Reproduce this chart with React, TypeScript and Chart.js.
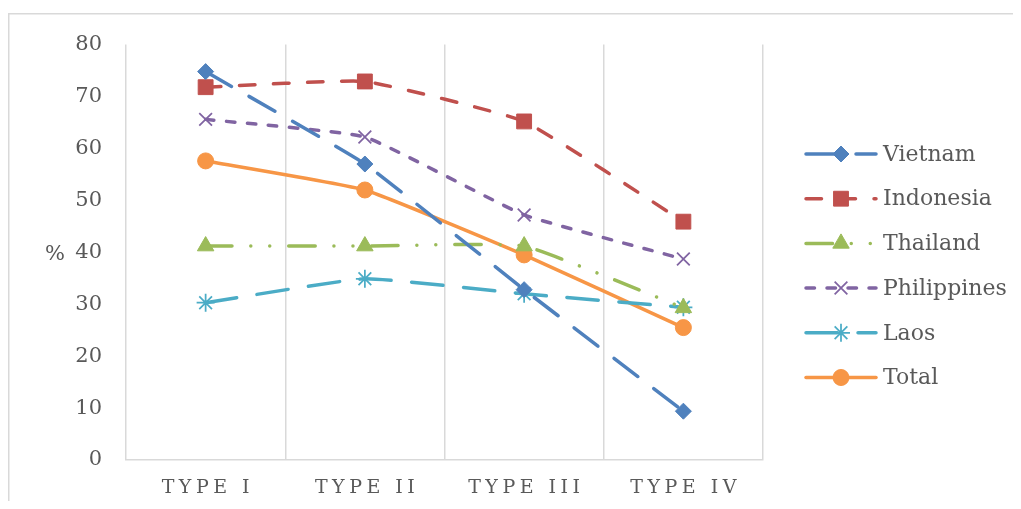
import { useEffect, useRef } from "react";
import { Chart, registerables } from "chart.js";
import { drawPoint } from "chart.js/helpers";

Chart.register(...registerables);

const categories = ["TYPE I", "TYPE II", "TYPE III", "TYPE IV"];
const vietnam = [74.8, 57.0, 32.8, 9.4];
const indonesia = [71.8, 72.9, 65.2, 45.9];
const thailand = [41.2, 41.2, 41.2, 29.3];
const philippines = [65.6, 62.2, 47.2, 38.7];
const laos = [30.3, 34.9, 32.0, 29.4];
const total = [57.6, 52.0, 39.5, 25.5];
const yMin = 0;
const yMax = 80;
const yStep = 10;
const yUnit = "%";

const FONT = "'DejaVu Serif', serif";
const TEXT = "#595959";
const GRID = "#d9d9d9";

const seriesDefs = [
  { label: "Vietnam", data: vietnam, color: "#4F81BD", dash: [30, 20], point: "rectRot", radius: 8, filled: true },
  { label: "Indonesia", data: indonesia, color: "#C0504D", dash: [15.5, 18.5], point: "rect", radius: 10.5, filled: true },
  { label: "Thailand", data: thailand, color: "#9BBB59", dash: [26.5, 18.75, 0.01, 19, 0.01, 18.75], point: "triangle", radius: 9.5, filled: true },
  { label: "Philippines", data: philippines, color: "#8064A2", dash: [8.5, 12.5], point: "crossRot", radius: 9, filled: false },
  { label: "Laos", data: laos, color: "#4BACC6", dash: [31.5, 20.5], point: "star", radius: 9, filled: false },
  { label: "Total", data: total, color: "#F79646", dash: [], point: "circle", radius: 8, filled: true },
];

const frameAndLegend = {
  id: "frameAndLegend",
  beforeDraw(chart: any) {
    const ctx = chart.ctx;
    ctx.save();
    ctx.fillStyle = "#ffffff";
    ctx.fillRect(0, 0, chart.width, chart.height);
    ctx.strokeStyle = GRID;
    ctx.lineWidth = 1.5;
    ctx.strokeRect(0.75, 5.75, chart.width + 10, chart.height + 10);
    ctx.restore();
  },
  afterDraw(chart: any) {
    const ctx = chart.ctx;
    const area = chart.chartArea;
    ctx.save();
    ctx.fillStyle = TEXT;
    ctx.font = `21px ${FONT}`;
    ctx.textAlign = "center";
    ctx.textBaseline = "middle";
    ctx.fillText(yUnit, 47, (area.top + area.bottom) / 2 + 2);
    const x0 = 798;
    const x1 = 868;
    const y0 = 146;
    const rowH = 44.7;
    chart.data.datasets.forEach((ds: any, i: number) => {
      const y = y0 + i * rowH;
      ctx.save();
      ctx.strokeStyle = ds.borderColor;
      ctx.lineWidth = ds.borderWidth;
      ctx.lineCap = "round";
      ctx.setLineDash(ds.borderDash || []);
      ctx.beginPath();
      ctx.moveTo(x0, y);
      ctx.lineTo(x1, y);
      ctx.stroke();
      ctx.restore();
      ctx.save();
      ctx.fillStyle = ds.pointBackgroundColor;
      ctx.strokeStyle = ds.pointBorderColor;
      ctx.lineWidth = ds.pointBorderWidth;
      drawPoint(ctx, { pointStyle: ds.pointStyle, rotation: 0, radius: ds.pointRadius, borderWidth: ds.pointBorderWidth }, (x0 + x1) / 2, y);
      ctx.restore();
      ctx.fillStyle = TEXT;
      ctx.font = `22px ${FONT}`;
      ctx.textAlign = "left";
      ctx.textBaseline = "middle";
      ctx.fillText(ds.label, x1 + 7, y + 1);
    });
    ctx.restore();
  },
};

export default function App() {
  const ref = useRef<HTMLCanvasElement | null>(null);
  useEffect(() => {
    if (!ref.current) return;
    const chart = new Chart(ref.current, {
      type: "line",
      data: {
        labels: categories,
        datasets: seriesDefs.map((s) => ({
          label: s.label,
          data: s.data,
          borderColor: s.color,
          backgroundColor: s.color,
          borderWidth: 3.5,
          borderDash: s.dash,
          borderCapStyle: "round",
          borderJoinStyle: "round",
          tension: 0.12,
          pointStyle: s.point,
          pointRadius: s.radius,
          pointHoverRadius: s.radius,
          pointBackgroundColor: s.filled ? s.color : "rgba(0,0,0,0)",
          pointBorderColor: s.color,
          pointBorderWidth: s.filled ? 1 : 1.75,
          fill: false,
        })) as any,
      },
      options: {
        animation: false,
        responsive: true,
        maintainAspectRatio: false,
        layout: { padding: { top: 35, right: 250, bottom: 0, left: 0 } },
        plugins: {
          legend: { display: false },
          tooltip: { enabled: false },
        },
        scales: {
          x: {
            offset: true,
            grid: { display: true, offset: true, color: GRID, lineWidth: 1.5, drawTicks: false },
            border: { display: true, color: GRID, width: 1.5 },
            ticks: { color: TEXT, font: { family: FONT, size: 19 }, padding: 17, maxRotation: 0 },
            afterFit: (s: any) => {
              s.height = 41;
            },
          },
          y: {
            min: yMin,
            max: yMax,
            grid: { display: false, drawTicks: false },
            border: { display: false },
            ticks: { stepSize: yStep, color: TEXT, font: { family: FONT, size: 21 }, padding: 24 },
            afterFit: (s: any) => {
              s.width = 118;
            },
          },
        },
      },
      plugins: [frameAndLegend],
    });
    const xs: any = chart.scales.x;
    const origDraw = xs.drawLabels.bind(xs);
    xs.drawLabels = (a: any) => {
      const ctx: any = chart.ctx;
      const prev = ctx.letterSpacing;
      ctx.letterSpacing = "4.5px";
      ctx.save();
      ctx.translate(2.25, 0);
      origDraw(a);
      ctx.restore();
      ctx.letterSpacing = prev || "0px";
    };
    chart.draw();
    return () => chart.destroy();
  }, []);
  return (
    <div style={{ width: 1005, height: 493, position: "relative" }}>
      <canvas ref={ref} />
    </div>
  );
}
